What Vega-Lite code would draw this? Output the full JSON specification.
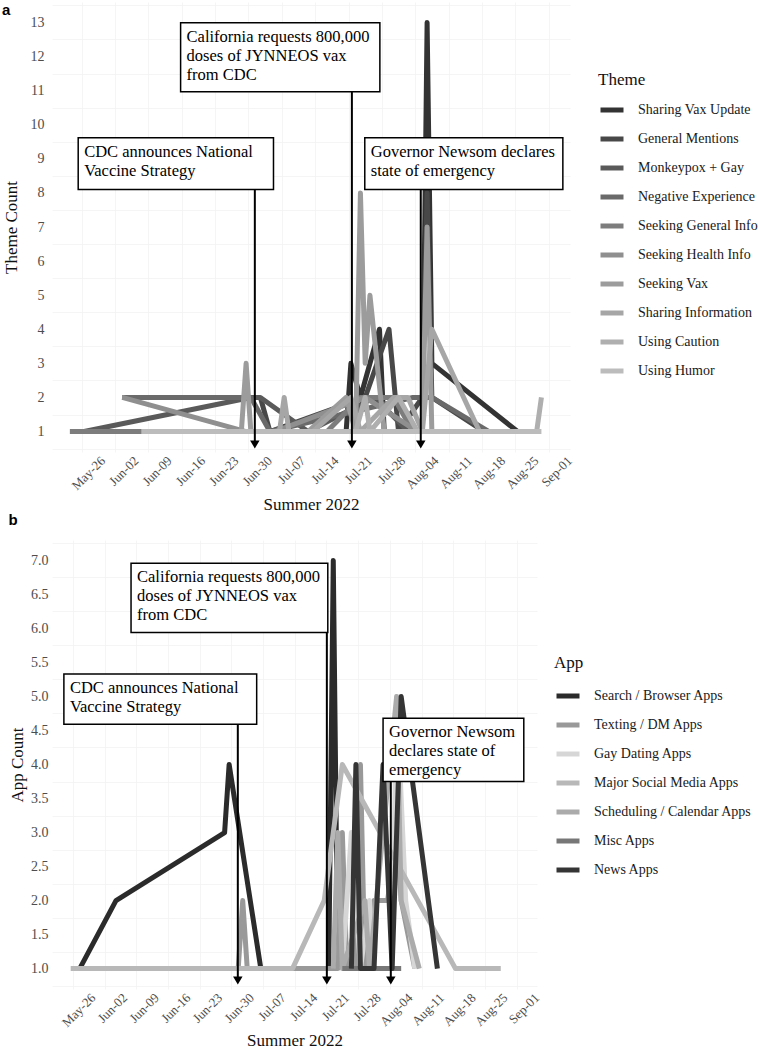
{
  "$schema": "https://vega.github.io/schema/vega-lite/v6.json",
  "background": "white",
  "padding": {"left": 2, "top": 2, "right": 0, "bottom": 0},
  "spacing": 0,
  "resolve": {"scale": {"color": "independent"}, "legend": {"color": "independent"}},
  "config": {
    "font": "Liberation Serif",
    "view": {"stroke": null},
    "axis": {"domain": false, "ticks": false, "labelFont": "Liberation Serif", "labelFontSize": 14, "labelColor": "#4d4d4d",
             "titleFont": "Liberation Serif", "titleFontSize": 17, "titleFontWeight": "normal", "titleColor": "#111111",
             "gridColor": "#e6e6e6", "gridWidth": 1},
    "axisX": {"labelFontSize": 13},
    "legend": {"orient": "none", "symbolType": "stroke", "symbolStrokeWidth": 5, "symbolSize": 529,
               "labelFont": "Liberation Serif", "labelFontSize": 14, "labelColor": "#1a1a1a",
               "titleFont": "Liberation Serif", "titleFontSize": 17, "titleFontWeight": "normal", "titleColor": "#111111",
               "titlePadding": 7, "rowPadding": 5, "labelOffset": 12, "padding": 0},
    "title": {"font": "Liberation Sans", "fontSize": 15, "fontWeight": "bold", "color": "#000000", "anchor": "start", "frame": "bounds"}
  },
  "datasets": {
    "themes": [
      {"theme": "Sharing Vax Update", "date": "2022-07-17", "count": 1},
      {"theme": "Sharing Vax Update", "date": "2022-07-18", "count": 3},
      {"theme": "Sharing Vax Update", "date": "2022-07-20", "count": 2},
      {"theme": "Sharing Vax Update", "date": "2022-07-24", "count": 4},
      {"theme": "Sharing Vax Update", "date": "2022-07-25", "count": 1},
      {"theme": "Sharing Vax Update", "date": "2022-08-02", "count": 1},
      {"theme": "Sharing Vax Update", "date": "2022-08-03", "count": 13},
      {"theme": "Sharing Vax Update", "date": "2022-08-04", "count": 3},
      {"theme": "Sharing Vax Update", "date": "2022-08-22", "count": 1},
      {"theme": "General Mentions", "date": "2022-06-29", "count": 2},
      {"theme": "General Mentions", "date": "2022-07-01", "count": 1},
      {"theme": "General Mentions", "date": "2022-07-21", "count": 2},
      {"theme": "General Mentions", "date": "2022-07-26", "count": 4},
      {"theme": "General Mentions", "date": "2022-07-28", "count": 1},
      {"theme": "General Mentions", "date": "2022-08-02", "count": 2},
      {"theme": "General Mentions", "date": "2022-08-03", "count": 8},
      {"theme": "General Mentions", "date": "2022-08-04", "count": 2},
      {"theme": "General Mentions", "date": "2022-08-15", "count": 1},
      {"theme": "Monkeypox + Gay", "date": "2022-05-23", "count": 1},
      {"theme": "Monkeypox + Gay", "date": "2022-06-27", "count": 2},
      {"theme": "Monkeypox + Gay", "date": "2022-06-29", "count": 2},
      {"theme": "Monkeypox + Gay", "date": "2022-07-09", "count": 1},
      {"theme": "Monkeypox + Gay", "date": "2022-07-23", "count": 2},
      {"theme": "Monkeypox + Gay", "date": "2022-07-30", "count": 1},
      {"theme": "Negative Experience", "date": "2022-05-31", "count": 2},
      {"theme": "Negative Experience", "date": "2022-06-27", "count": 2},
      {"theme": "Negative Experience", "date": "2022-07-01", "count": 1},
      {"theme": "Negative Experience", "date": "2022-07-31", "count": 2},
      {"theme": "Negative Experience", "date": "2022-08-04", "count": 2},
      {"theme": "Negative Experience", "date": "2022-08-16", "count": 1},
      {"theme": "Seeking General Info", "date": "2022-05-20", "count": 1},
      {"theme": "Seeking General Info", "date": "2022-06-04", "count": 1},
      {"theme": "Seeking General Info", "date": "2022-07-13", "count": 1},
      {"theme": "Seeking General Info", "date": "2022-07-20", "count": 2},
      {"theme": "Seeking General Info", "date": "2022-07-27", "count": 2},
      {"theme": "Seeking General Info", "date": "2022-07-31", "count": 1},
      {"theme": "Seeking Health Info", "date": "2022-05-31", "count": 2},
      {"theme": "Seeking Health Info", "date": "2022-06-26", "count": 1},
      {"theme": "Seeking Health Info", "date": "2022-07-02", "count": 1},
      {"theme": "Seeking Health Info", "date": "2022-07-21", "count": 2},
      {"theme": "Seeking Health Info", "date": "2022-08-01", "count": 1},
      {"theme": "Seeking Vax", "date": "2022-06-25", "count": 1},
      {"theme": "Seeking Vax", "date": "2022-06-26", "count": 3},
      {"theme": "Seeking Vax", "date": "2022-06-27", "count": 1},
      {"theme": "Seeking Vax", "date": "2022-07-09", "count": 1},
      {"theme": "Seeking Vax", "date": "2022-07-17", "count": 2},
      {"theme": "Seeking Vax", "date": "2022-07-19", "count": 1},
      {"theme": "Seeking Vax", "date": "2022-07-20", "count": 8},
      {"theme": "Seeking Vax", "date": "2022-07-21", "count": 3},
      {"theme": "Seeking Vax", "date": "2022-07-22", "count": 5},
      {"theme": "Seeking Vax", "date": "2022-07-25", "count": 1},
      {"theme": "Seeking Vax", "date": "2022-08-02", "count": 1},
      {"theme": "Seeking Vax", "date": "2022-08-03", "count": 7},
      {"theme": "Seeking Vax", "date": "2022-08-04", "count": 1},
      {"theme": "Sharing Information", "date": "2022-07-03", "count": 1},
      {"theme": "Sharing Information", "date": "2022-07-04", "count": 2},
      {"theme": "Sharing Information", "date": "2022-07-05", "count": 1},
      {"theme": "Sharing Information", "date": "2022-07-10", "count": 1},
      {"theme": "Sharing Information", "date": "2022-07-18", "count": 2},
      {"theme": "Sharing Information", "date": "2022-07-20", "count": 1},
      {"theme": "Sharing Information", "date": "2022-07-27", "count": 2},
      {"theme": "Sharing Information", "date": "2022-07-30", "count": 2},
      {"theme": "Sharing Information", "date": "2022-08-02", "count": 1},
      {"theme": "Sharing Information", "date": "2022-08-04", "count": 4},
      {"theme": "Sharing Information", "date": "2022-08-14", "count": 1},
      {"theme": "Using Caution", "date": "2022-07-19", "count": 1},
      {"theme": "Using Caution", "date": "2022-07-21", "count": 2},
      {"theme": "Using Caution", "date": "2022-07-22", "count": 1},
      {"theme": "Using Caution", "date": "2022-07-28", "count": 2},
      {"theme": "Using Caution", "date": "2022-08-01", "count": 1},
      {"theme": "Using Caution", "date": "2022-08-26", "count": 1},
      {"theme": "Using Caution", "date": "2022-08-27", "count": 2},
      {"theme": "Using Humor", "date": "2022-06-04", "count": 1},
      {"theme": "Using Humor", "date": "2022-07-16", "count": 1},
      {"theme": "Using Humor", "date": "2022-07-29", "count": 1},
      {"theme": "Using Humor", "date": "2022-08-27", "count": 1}
    ],
    "apps": [
      {"app": "Search / Browser Apps", "date": "2022-05-24", "count": 1},
      {"app": "Search / Browser Apps", "date": "2022-06-01", "count": 2},
      {"app": "Search / Browser Apps", "date": "2022-06-25", "count": 3},
      {"app": "Search / Browser Apps", "date": "2022-06-26", "count": 4},
      {"app": "Search / Browser Apps", "date": "2022-07-03", "count": 1},
      {"app": "Search / Browser Apps", "date": "2022-07-18", "count": 1},
      {"app": "Search / Browser Apps", "date": "2022-07-19", "count": 7},
      {"app": "Search / Browser Apps", "date": "2022-07-20", "count": 1},
      {"app": "Texting / DM Apps", "date": "2022-06-28", "count": 1},
      {"app": "Texting / DM Apps", "date": "2022-06-29", "count": 2},
      {"app": "Texting / DM Apps", "date": "2022-06-30", "count": 1},
      {"app": "Texting / DM Apps", "date": "2022-07-20", "count": 1},
      {"app": "Texting / DM Apps", "date": "2022-07-21", "count": 3},
      {"app": "Texting / DM Apps", "date": "2022-07-22", "count": 1},
      {"app": "Texting / DM Apps", "date": "2022-07-24", "count": 1},
      {"app": "Texting / DM Apps", "date": "2022-07-25", "count": 4},
      {"app": "Texting / DM Apps", "date": "2022-07-26", "count": 1},
      {"app": "Texting / DM Apps", "date": "2022-07-28", "count": 2},
      {"app": "Texting / DM Apps", "date": "2022-07-31", "count": 2},
      {"app": "Texting / DM Apps", "date": "2022-08-02", "count": 3},
      {"app": "Texting / DM Apps", "date": "2022-08-03", "count": 2},
      {"app": "Texting / DM Apps", "date": "2022-08-06", "count": 1},
      {"app": "Gay Dating Apps", "date": "2022-07-21", "count": 1},
      {"app": "Gay Dating Apps", "date": "2022-07-23", "count": 3},
      {"app": "Gay Dating Apps", "date": "2022-07-25", "count": 1},
      {"app": "Gay Dating Apps", "date": "2022-07-27", "count": 2},
      {"app": "Gay Dating Apps", "date": "2022-07-28", "count": 1},
      {"app": "Gay Dating Apps", "date": "2022-08-01", "count": 1},
      {"app": "Gay Dating Apps", "date": "2022-08-02", "count": 5},
      {"app": "Gay Dating Apps", "date": "2022-08-04", "count": 2},
      {"app": "Gay Dating Apps", "date": "2022-08-06", "count": 1},
      {"app": "Major Social Media Apps", "date": "2022-05-22", "count": 1},
      {"app": "Major Social Media Apps", "date": "2022-07-10", "count": 1},
      {"app": "Major Social Media Apps", "date": "2022-07-17", "count": 2},
      {"app": "Major Social Media Apps", "date": "2022-07-21", "count": 4},
      {"app": "Major Social Media Apps", "date": "2022-08-15", "count": 1},
      {"app": "Major Social Media Apps", "date": "2022-08-25", "count": 1},
      {"app": "Scheduling / Calendar Apps", "date": "2022-07-19", "count": 1},
      {"app": "Scheduling / Calendar Apps", "date": "2022-07-20", "count": 3},
      {"app": "Scheduling / Calendar Apps", "date": "2022-07-21", "count": 1},
      {"app": "Scheduling / Calendar Apps", "date": "2022-07-26", "count": 2},
      {"app": "Scheduling / Calendar Apps", "date": "2022-07-27", "count": 1},
      {"app": "Scheduling / Calendar Apps", "date": "2022-08-02", "count": 5},
      {"app": "Scheduling / Calendar Apps", "date": "2022-08-03", "count": 2},
      {"app": "Scheduling / Calendar Apps", "date": "2022-08-07", "count": 1},
      {"app": "Misc Apps", "date": "2022-07-21", "count": 1},
      {"app": "Misc Apps", "date": "2022-08-03", "count": 1},
      {"app": "News Apps", "date": "2022-07-23", "count": 1},
      {"app": "News Apps", "date": "2022-07-24", "count": 4},
      {"app": "News Apps", "date": "2022-07-25", "count": 1},
      {"app": "News Apps", "date": "2022-07-28", "count": 1},
      {"app": "News Apps", "date": "2022-07-30", "count": 4},
      {"app": "News Apps", "date": "2022-08-01", "count": 1},
      {"app": "News Apps", "date": "2022-08-03", "count": 5},
      {"app": "News Apps", "date": "2022-08-11", "count": 1}
    ],
    "notesA": [
      {"label": "CDC announces National\nVaccine Strategy", "left": "2022-05-21T18:00Z", "right": "2022-07-01T18:00Z", "top": 9.62, "bottom": 8.1, "arrow": "2022-06-27T20:00Z", "head": 0.62},
      {"label": "California requests 800,000\ndoses of JYNNEOS vax\nfrom CDC", "left": "2022-06-12T06:00Z", "right": "2022-07-24T02:00Z", "top": 12.99, "bottom": 10.97, "arrow": "2022-07-18T05:00Z", "head": 0.62},
      {"label": "Governor Newsom declares\nstate of emergency", "left": "2022-07-20T22:00Z", "right": "2022-08-31T12:00Z", "top": 9.62, "bottom": 8.1, "arrow": "2022-08-01T16:00Z", "head": 0.62}
    ],
    "notesB": [
      {"label": "CDC announces National\nVaccine Strategy", "left": "2022-05-20T12:00Z", "right": "2022-07-02T02:00Z", "top": 5.33, "bottom": 4.59, "arrow": "2022-06-27T22:00Z", "head": 0.825},
      {"label": "California requests 800,000\ndoses of JYNNEOS vax\nfrom CDC", "left": "2022-06-04T08:00Z", "right": "2022-07-17T19:00Z", "top": 6.96, "bottom": 5.94, "arrow": "2022-07-17T14:00Z", "head": 0.825},
      {"label": "Governor Newsom\ndeclares state of\nemergency", "left": "2022-07-30T00:00Z", "right": "2022-08-30T02:00Z", "top": 4.68, "bottom": 3.75, "arrow": "2022-07-31T17:00Z", "head": 0.825}
    ]
  },
  "vconcat": [
    {
      "title": {"text": "a", "offset": -16},
      "width": 518,
      "height": 450,
      "layer": [
        {
          "data": {"name": "themes"},
          "mark": {"type": "point", "opacity": 0},
          "encoding": {
            "x": {"field": "date", "type": "temporal", "scale": {"type": "utc"},
                  "axis": {"orient": "top", "labels": false, "title": null, "gridColor": "#f2f2f2", "gridWidth": 0.8,
                           "values": [{"year": 2022, "month": 5, "date": 22, "hours": 12, "utc": true}, {"year": 2022, "month": 5, "date": 29, "hours": 12, "utc": true},
                                      {"year": 2022, "month": 6, "date": 5, "hours": 12, "utc": true}, {"year": 2022, "month": 6, "date": 12, "hours": 12, "utc": true},
                                      {"year": 2022, "month": 6, "date": 19, "hours": 12, "utc": true}, {"year": 2022, "month": 6, "date": 26, "hours": 12, "utc": true},
                                      {"year": 2022, "month": 7, "date": 3, "hours": 12, "utc": true}, {"year": 2022, "month": 7, "date": 10, "hours": 12, "utc": true},
                                      {"year": 2022, "month": 7, "date": 17, "hours": 12, "utc": true}, {"year": 2022, "month": 7, "date": 24, "hours": 12, "utc": true},
                                      {"year": 2022, "month": 7, "date": 31, "hours": 12, "utc": true}, {"year": 2022, "month": 8, "date": 7, "hours": 12, "utc": true},
                                      {"year": 2022, "month": 8, "date": 14, "hours": 12, "utc": true}, {"year": 2022, "month": 8, "date": 21, "hours": 12, "utc": true},
                                      {"year": 2022, "month": 8, "date": 28, "hours": 12, "utc": true}]}},
            "y": {"field": "count", "type": "quantitative",
                  "axis": {"orient": "right", "labels": false, "title": null, "gridColor": "#f2f2f2", "gridWidth": 0.8, "minExtent": 0,
                           "values": [0.5, 1.5, 2.5, 3.5, 4.5, 5.5, 6.5, 7.5, 8.5, 9.5, 10.5, 11.5, 12.5, 13.5]}}
          }
        },
        {
          "data": {"name": "themes"},
          "mark": {"type": "line", "strokeWidth": 5, "strokeCap": "butt", "strokeJoin": "round"},
          "encoding": {
            "x": {"field": "date", "type": "temporal", "title": "Summer 2022",
                  "scale": {"type": "utc", "domain": [{"year": 2022, "month": 5, "date": 16, "hours": 6, "utc": true}, {"year": 2022, "month": 9, "date": 2, "utc": true}]},
                  "axis": {"format": "%b-%d", "labelAngle": -45, "labelAlign": "right", "labelBaseline": "top", "labelPadding": 2, "titlePadding": 4,
                           "labelOverlap": false, "labelFlush": false,
                           "values": [{"year": 2022, "month": 5, "date": 26, "utc": true}, {"year": 2022, "month": 6, "date": 2, "utc": true},
                                      {"year": 2022, "month": 6, "date": 9, "utc": true}, {"year": 2022, "month": 6, "date": 16, "utc": true},
                                      {"year": 2022, "month": 6, "date": 23, "utc": true}, {"year": 2022, "month": 6, "date": 30, "utc": true},
                                      {"year": 2022, "month": 7, "date": 7, "utc": true}, {"year": 2022, "month": 7, "date": 14, "utc": true},
                                      {"year": 2022, "month": 7, "date": 21, "utc": true}, {"year": 2022, "month": 7, "date": 28, "utc": true},
                                      {"year": 2022, "month": 8, "date": 4, "utc": true}, {"year": 2022, "month": 8, "date": 11, "utc": true},
                                      {"year": 2022, "month": 8, "date": 18, "utc": true}, {"year": 2022, "month": 8, "date": 25, "utc": true},
                                      {"year": 2022, "month": 9, "date": 1, "utc": true}]}},
            "y": {"field": "count", "type": "quantitative", "title": "Theme Count",
                  "scale": {"domain": [0.4, 13.6], "nice": false, "zero": false},
                  "axis": {"values": [1, 2, 3, 4, 5, 6, 7, 8, 9, 10, 11, 12, 13], "labelPadding": 8, "titlePadding": 10}},
            "color": {"field": "theme", "type": "nominal",
                      "scale": {"domain": ["Sharing Vax Update", "General Mentions", "Monkeypox + Gay", "Negative Experience", "Seeking General Info", "Seeking Health Info", "Seeking Vax", "Sharing Information", "Using Caution", "Using Humor"],
                                "range": ["#333333", "#484848", "#5a5a5a", "#6a6a6a", "#7d7d7d", "#8f8f8f", "#9c9c9c", "#a6a6a6", "#afafaf", "#bcbcbc"]},
                      "legend": {"title": "Theme", "orient": "none", "legendX": 546, "legendY": 70}}
          }
        },
        {
          "data": {"name": "notesA"},
          "mark": {"type": "rect", "fill": "white", "stroke": "black", "strokeWidth": 1.5},
          "encoding": {
            "x": {"field": "left", "type": "temporal", "scale": {"type": "utc"}, "axis": null},
            "x2": {"field": "right"},
            "y": {"field": "top", "type": "quantitative", "axis": null},
            "y2": {"field": "bottom"}
          }
        },
        {
          "data": {"name": "notesA"},
          "mark": {"type": "text", "align": "left", "baseline": "top", "dx": 6, "dy": 6, "fontSize": 16.5, "lineHeight": 19, "lineBreak": "\n", "color": "black", "font": "Liberation Serif"},
          "encoding": {
            "x": {"field": "left", "type": "temporal", "scale": {"type": "utc"}, "axis": null},
            "y": {"field": "top", "type": "quantitative", "axis": null},
            "text": {"field": "label"}
          }
        },
        {
          "data": {"name": "notesA"},
          "mark": {"type": "rule", "strokeWidth": 2, "color": "black"},
          "encoding": {
            "x": {"field": "arrow", "type": "temporal", "scale": {"type": "utc"}, "axis": null},
            "y": {"field": "bottom", "type": "quantitative", "axis": null},
            "y2": {"field": "head"}
          }
        },
        {
          "data": {"name": "notesA"},
          "mark": {"type": "point", "shape": "triangle-down", "filled": true, "size": 90, "color": "black", "opacity": 1},
          "encoding": {
            "x": {"field": "arrow", "type": "temporal", "scale": {"type": "utc"}, "axis": null},
            "y": {"field": "head", "type": "quantitative", "axis": null}
          }
        }
      ],
      "resolve": {"axis": {"x": "independent", "y": "independent"}}
    },
    {
      "title": {"text": "b", "offset": 12},
      "width": 485,
      "height": 449,
      "layer": [
        {
          "data": {"name": "apps"},
          "mark": {"type": "point", "opacity": 0},
          "encoding": {
            "x": {"field": "date", "type": "temporal", "scale": {"type": "utc"},
                  "axis": {"orient": "top", "labels": false, "title": null, "gridColor": "#f2f2f2", "gridWidth": 0.8,
                           "values": [{"year": 2022, "month": 5, "date": 22, "hours": 12, "utc": true}, {"year": 2022, "month": 5, "date": 29, "hours": 12, "utc": true},
                                      {"year": 2022, "month": 6, "date": 5, "hours": 12, "utc": true}, {"year": 2022, "month": 6, "date": 12, "hours": 12, "utc": true},
                                      {"year": 2022, "month": 6, "date": 19, "hours": 12, "utc": true}, {"year": 2022, "month": 6, "date": 26, "hours": 12, "utc": true},
                                      {"year": 2022, "month": 7, "date": 3, "hours": 12, "utc": true}, {"year": 2022, "month": 7, "date": 10, "hours": 12, "utc": true},
                                      {"year": 2022, "month": 7, "date": 17, "hours": 12, "utc": true}, {"year": 2022, "month": 7, "date": 24, "hours": 12, "utc": true},
                                      {"year": 2022, "month": 7, "date": 31, "hours": 12, "utc": true}, {"year": 2022, "month": 8, "date": 7, "hours": 12, "utc": true},
                                      {"year": 2022, "month": 8, "date": 14, "hours": 12, "utc": true}, {"year": 2022, "month": 8, "date": 21, "hours": 12, "utc": true},
                                      {"year": 2022, "month": 8, "date": 28, "hours": 12, "utc": true}]}},
            "y": {"field": "count", "type": "quantitative",
                  "axis": {"orient": "right", "labels": false, "title": null, "gridColor": "#f2f2f2", "gridWidth": 0.8, "minExtent": 0,
                           "values": [0.75, 1.25, 1.75, 2.25, 2.75, 3.25, 3.75, 4.25, 4.75, 5.25, 5.75, 6.25, 6.75, 7.25]}}
          }
        },
        {
          "data": {"name": "apps"},
          "mark": {"type": "line", "strokeWidth": 5, "strokeCap": "butt", "strokeJoin": "round"},
          "encoding": {
            "x": {"field": "date", "type": "temporal", "title": "Summer 2022",
                  "scale": {"type": "utc", "domain": [{"year": 2022, "month": 5, "date": 17, "hours": 21, "utc": true}, {"year": 2022, "month": 9, "date": 2, "utc": true}]},
                  "axis": {"format": "%b-%d", "labelAngle": -45, "labelAlign": "right", "labelBaseline": "top", "labelPadding": 2, "titlePadding": 3,
                           "labelOverlap": false, "labelFlush": false,
                           "values": [{"year": 2022, "month": 5, "date": 26, "utc": true}, {"year": 2022, "month": 6, "date": 2, "utc": true},
                                      {"year": 2022, "month": 6, "date": 9, "utc": true}, {"year": 2022, "month": 6, "date": 16, "utc": true},
                                      {"year": 2022, "month": 6, "date": 23, "utc": true}, {"year": 2022, "month": 6, "date": 30, "utc": true},
                                      {"year": 2022, "month": 7, "date": 7, "utc": true}, {"year": 2022, "month": 7, "date": 14, "utc": true},
                                      {"year": 2022, "month": 7, "date": 21, "utc": true}, {"year": 2022, "month": 7, "date": 28, "utc": true},
                                      {"year": 2022, "month": 8, "date": 4, "utc": true}, {"year": 2022, "month": 8, "date": 11, "utc": true},
                                      {"year": 2022, "month": 8, "date": 18, "utc": true}, {"year": 2022, "month": 8, "date": 25, "utc": true},
                                      {"year": 2022, "month": 9, "date": 1, "utc": true}]}},
            "y": {"field": "count", "type": "quantitative", "title": "App Count",
                  "scale": {"domain": [0.7, 7.3], "nice": false, "zero": false},
                  "axis": {"values": [1, 1.5, 2, 2.5, 3, 3.5, 4, 4.5, 5, 5.5, 6, 6.5, 7], "format": ".1f", "labelPadding": 4, "titlePadding": 4}},
            "color": {"field": "app", "type": "nominal",
                      "scale": {"domain": ["Search / Browser Apps", "Texting / DM Apps", "Gay Dating Apps", "Major Social Media Apps", "Scheduling / Calendar Apps", "Misc Apps", "News Apps"],
                                "range": ["#2b2b2b", "#999999", "#d6d6d6", "#b8b8b8", "#ababab", "#777777", "#353535"]},
                      "legend": {"title": "App", "orient": "none", "legendX": 502, "legendY": 115, "titlePadding": 10}}
          }
        },
        {
          "data": {"name": "notesB"},
          "mark": {"type": "rect", "fill": "white", "stroke": "black", "strokeWidth": 1.5},
          "encoding": {
            "x": {"field": "left", "type": "temporal", "scale": {"type": "utc"}, "axis": null},
            "x2": {"field": "right"},
            "y": {"field": "top", "type": "quantitative", "axis": null},
            "y2": {"field": "bottom"}
          }
        },
        {
          "data": {"name": "notesB"},
          "mark": {"type": "text", "align": "left", "baseline": "top", "dx": 6, "dy": 6, "fontSize": 16.5, "lineHeight": 19, "lineBreak": "\n", "color": "black", "font": "Liberation Serif"},
          "encoding": {
            "x": {"field": "left", "type": "temporal", "scale": {"type": "utc"}, "axis": null},
            "y": {"field": "top", "type": "quantitative", "axis": null},
            "text": {"field": "label"}
          }
        },
        {
          "data": {"name": "notesB"},
          "mark": {"type": "rule", "strokeWidth": 2, "color": "black"},
          "encoding": {
            "x": {"field": "arrow", "type": "temporal", "scale": {"type": "utc"}, "axis": null},
            "y": {"field": "bottom", "type": "quantitative", "axis": null},
            "y2": {"field": "head"}
          }
        },
        {
          "data": {"name": "notesB"},
          "mark": {"type": "point", "shape": "triangle-down", "filled": true, "size": 90, "color": "black", "opacity": 1},
          "encoding": {
            "x": {"field": "arrow", "type": "temporal", "scale": {"type": "utc"}, "axis": null},
            "y": {"field": "head", "type": "quantitative", "axis": null}
          }
        }
      ],
      "resolve": {"axis": {"x": "independent", "y": "independent"}}
    }
  ]
}
